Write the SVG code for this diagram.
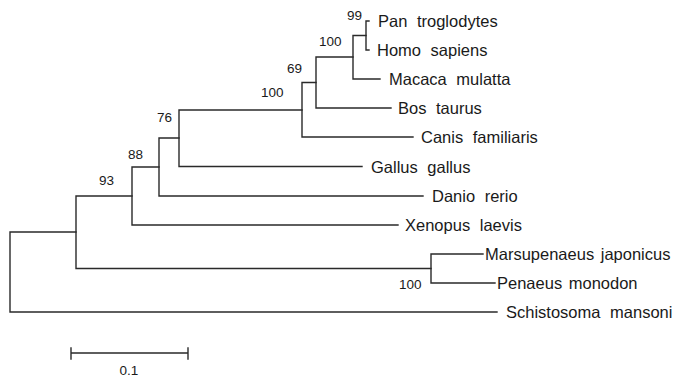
<svg xmlns="http://www.w3.org/2000/svg" width="675" height="380" viewBox="0 0 675 380">
  <style>
    .br { fill: none; stroke: #2a2a2a; stroke-width: 1.4; stroke-linecap: square; }
    .taxon { font-family: "Liberation Sans", Arial, sans-serif; font-size: 16.5px; fill: #1a1a1a; word-spacing: 5px; }
    .boot { font-family: "Liberation Sans", Arial, sans-serif; font-size: 13.5px; fill: #1a1a1a; }
    .scale { font-family: "Liberation Sans", Arial, sans-serif; font-size: 13.5px; fill: #1a1a1a; text-anchor: middle; }
  </style>
  <rect width="675" height="380" fill="#ffffff"/>

  <!-- branches (rectangular cladogram) -->
  <g id="connectors">
    <!-- root -->
    <path class="br" d="M10,232 V312 M10,232 H76 M10,312 H497"/>
    <!-- ingroup vs crustaceans -->
    <path class="br" d="M76,196 V268.5 M76,196 H132 M76,268.5 H431"/>
    <!-- crustaceans -->
    <path class="br" d="M431,254 V283 M431,254 H483 M431,283 H495"/>
    <!-- vertebrates -->
    <path class="br" d="M132,167 V225 M132,167 H159 M132,225 H398"/>
    <path class="br" d="M159,138 V196 M159,138 H179 M159,196 H423"/>
    <path class="br" d="M179,110 V166.5 M179,110 H302 M179,166.5 H362"/>
    <path class="br" d="M302,82.5 V137 M302,82.5 H316 M302,137 H413"/>
    <path class="br" d="M316,57 V108 M316,57 H353 M316,108 H391"/>
    <path class="br" d="M353,35.5 V79 M353,35.5 H366 M353,79 H380"/>
    <path class="br" d="M366,21 V50 M366,21 H369 M366,50 H369"/>
  </g>

  <!-- bootstrap support values -->
  <g id="support">
    <text class="boot" x="347" y="20">99</text>
    <text class="boot" x="319" y="46">100</text>
    <text class="boot" x="287" y="73">69</text>
    <text class="boot" x="261" y="97">100</text>
    <text class="boot" x="157" y="122">76</text>
    <text class="boot" x="128" y="159">88</text>
    <text class="boot" x="99" y="185">93</text>
    <text class="boot" x="399" y="289">100</text>
  </g>

  <!-- taxa -->
  <g id="taxon-pan"><text class="taxon" x="378" y="27">Pan troglodytes</text></g>
  <g id="taxon-homo"><text class="taxon" x="377" y="56">Homo sapiens</text></g>
  <g id="taxon-macaca"><text class="taxon" x="389" y="85">Macaca mulatta</text></g>
  <g id="taxon-bos"><text class="taxon" x="398" y="114">Bos taurus</text></g>
  <g id="taxon-canis"><text class="taxon" x="421" y="143">Canis familiaris</text></g>
  <g id="taxon-gallus"><text class="taxon" x="371" y="172.5">Gallus gallus</text></g>
  <g id="taxon-danio"><text class="taxon" x="432" y="202">Danio rerio</text></g>
  <g id="taxon-xenopus"><text class="taxon" x="405" y="231">Xenopus laevis</text></g>
  <g id="taxon-marsupenaeus"><text class="taxon" x="485" y="260" style="word-spacing:2px">Marsupenaeus japonicus</text></g>
  <g id="taxon-penaeus"><text class="taxon" x="497" y="289" style="word-spacing:2px">Penaeus monodon</text></g>
  <g id="taxon-schistosoma"><text class="taxon" x="506" y="318">Schistosoma mansoni</text></g>

  <!-- scale bar -->
  <g id="scale-bar">
    <path class="br" d="M71,353 H188 M71,348 V359 M188,348 V359"/>
    <text class="scale" x="129" y="375">0.1</text>
  </g>
</svg>
